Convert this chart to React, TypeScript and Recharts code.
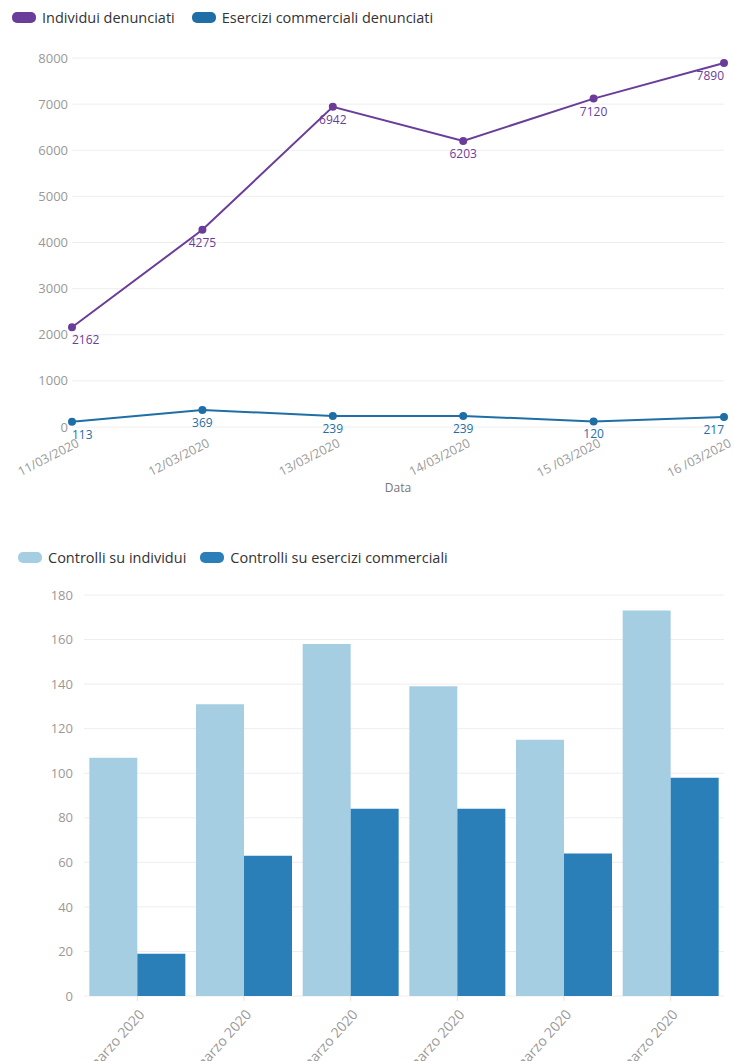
import React from 'react';
import {
  LineChart,
  Line,
  BarChart,
  Bar,
  XAxis,
  YAxis,
  CartesianGrid,
  Legend,
  LabelList
} from 'recharts';

// Chart 1: denunce
const dates = ['11/03/2020', '12/03/2020', '13/03/2020', '14/03/2020', '15 /03/2020', '16 /03/2020'];
const individuiDenunciati = [2162, 4275, 6942, 6203, 7120, 7890];
const eserciziDenunciati = [113, 369, 239, 239, 120, 217];
const lineTicks = [0, 1000, 2000, 3000, 4000, 5000, 6000, 7000, 8000];

// Chart 2: controlli
const giorni = ['11 marzo 2020', '12 marzo 2020', '13 marzo 2020', '14 marzo 2020', '15 marzo 2020', '16 marzo 2020'];
const controlliIndividui = [107, 131, 158, 139, 115, 173];
const controlliEsercizi = [19, 63, 84, 84, 64, 98];
const barTicks = [0, 20, 40, 60, 80, 100, 120, 140, 160, 180];

const PURPLE = '#6a3d9a';
const BLUE_LINE = '#1f6ea6';
const LIGHT_BAR = '#a6cee3';
const DARK_BAR = '#2b7fb8';
const FONT = '"Open Sans", sans-serif';

const lineData = dates.map((d, i) => ({
  data: d,
  individui: individuiDenunciati[i],
  esercizi: eserciziDenunciati[i]
}));

const barData = giorni.map((g, i) => ({
  giorno: g,
  individui: controlliIndividui[i],
  esercizi: controlliEsercizi[i]
}));

const makeLegend = (items: { name: string; color: string }[], height: number, center: number, pad: number, gap: number) => () => (
  <div style={{ height, position: 'relative', fontFamily: FONT, fontSize: 14.5, color: '#333' }}>
    <div style={{ position: 'absolute', top: center - 11, left: pad, display: 'flex', alignItems: 'center', height: 22, whiteSpace: 'nowrap' }}>
      {items.map(it => (
        <span key={it.name} style={{ display: 'flex', alignItems: 'center', marginRight: gap }}>
          <span style={{ width: 24, height: 11, borderRadius: 5, background: it.color, display: 'inline-block', marginRight: 6 }} />
          {it.name}
        </span>
      ))}
    </div>
  </div>
);

const makePointLabel = (color: string, count: number) => (props: any) => {
  const { x, y, value, index } = props;
  const anchor = index === 0 ? 'start' : index === count - 1 ? 'end' : 'middle';
  return (
    <text x={x} y={y + 17} fill={color} fontSize={12} fontFamily={FONT} textAnchor={anchor}>
      {value}
    </text>
  );
};

// rotated tick: baseline end placed at (x + dx, y + dy)
const makeRotatedTick = (angle: number, dx: number, dy: number, size: number) => (props: any) => {
  const { x, y, payload } = props;
  return (
    <g transform={`translate(${x + dx},${y + dy})`}>
      <text x={0} y={0} textAnchor="end" transform={`rotate(${angle})`} fill="#999" fontSize={size} fontFamily={FONT}>
        {payload.value}
      </text>
    </g>
  );
};

export default function App() {
  return (
    <div style={{ position: 'absolute', left: 0, top: 0, width: 734, height: 1061, overflow: 'hidden', background: '#fff' }}>
      <div style={{ position: 'absolute', left: 0, top: 0 }}>
        <LineChart width={734} height={500} data={lineData} margin={{ top: 6, right: 10, left: 0, bottom: 0 }}>
          <CartesianGrid vertical={false} stroke="#eeeeee" />
          <Legend
            verticalAlign="top"
            align="left"
            content={makeLegend(
              [
                { name: 'Individui denunciati', color: PURPLE },
                { name: 'Esercizi commerciali denunciati', color: BLUE_LINE }
              ],
              52,
              11,
              12,
              17
            )}
          />
          <XAxis
            dataKey="data"
            height={73}
            axisLine={false}
            tickLine={false}
            tickSize={0}
            tickMargin={0}
            interval={0}
            tick={makeRotatedTick(-27, 8, 19, 12.5)}
            label={{ value: 'Data', position: 'insideBottom', offset: 8, fill: '#777', fontSize: 12, fontFamily: FONT }}
          />
          <YAxis
            width={72}
            domain={[0, 8000]}
            ticks={lineTicks}
            axisLine={false}
            tickLine={false}
            tickSize={4}
            tickMargin={0}
            tick={{ fontSize: 13, fill: '#999', fontFamily: FONT }}
          />
          <Line
            dataKey="individui"
            name="Individui denunciati"
            stroke={PURPLE}
            strokeWidth={2}
            dot={{ r: 3, fill: PURPLE, stroke: PURPLE }}
            isAnimationActive={false}
          >
            <LabelList dataKey="individui" content={makePointLabel(PURPLE, dates.length)} />
          </Line>
          <Line
            dataKey="esercizi"
            name="Esercizi commerciali denunciati"
            stroke={BLUE_LINE}
            strokeWidth={2}
            dot={{ r: 3, fill: BLUE_LINE, stroke: BLUE_LINE }}
            isAnimationActive={false}
          >
            <LabelList dataKey="esercizi" content={makePointLabel(BLUE_LINE, dates.length)} />
          </Line>
        </LineChart>
      </div>
      <div style={{ position: 'absolute', left: 0, top: 530 }}>
        <BarChart
          width={734}
          height={531}
          data={barData}
          margin={{ top: 12, right: 10, left: 0, bottom: 0 }}
          barCategoryGap="5%"
          barGap={0}
        >
          <CartesianGrid vertical={false} stroke="#eeeeee" />
          <Legend
            verticalAlign="top"
            align="left"
            content={makeLegend(
              [
                { name: 'Controlli su individui', color: LIGHT_BAR },
                { name: 'Controlli su esercizi commerciali', color: DARK_BAR }
              ],
              53,
              15,
              18,
              14
            )}
          />
          <XAxis
            dataKey="giorno"
            height={65}
            axisLine={false}
            tickLine={{ stroke: '#f3e3cc' }}
            tickSize={5}
            tickMargin={0}
            interval={0}
            tick={makeRotatedTick(-48, 8, 14, 14)}
          />
          <YAxis
            width={84}
            domain={[0, 180]}
            ticks={barTicks}
            axisLine={false}
            tickLine={false}
            tickSize={8}
            tickMargin={3}
            tick={{ fontSize: 13, fill: '#999', fontFamily: FONT }}
          />
          <Bar dataKey="individui" name="Controlli su individui" fill={LIGHT_BAR} isAnimationActive={false} />
          <Bar dataKey="esercizi" name="Controlli su esercizi commerciali" fill={DARK_BAR} isAnimationActive={false} />
        </BarChart>
      </div>
    </div>
  );
}
